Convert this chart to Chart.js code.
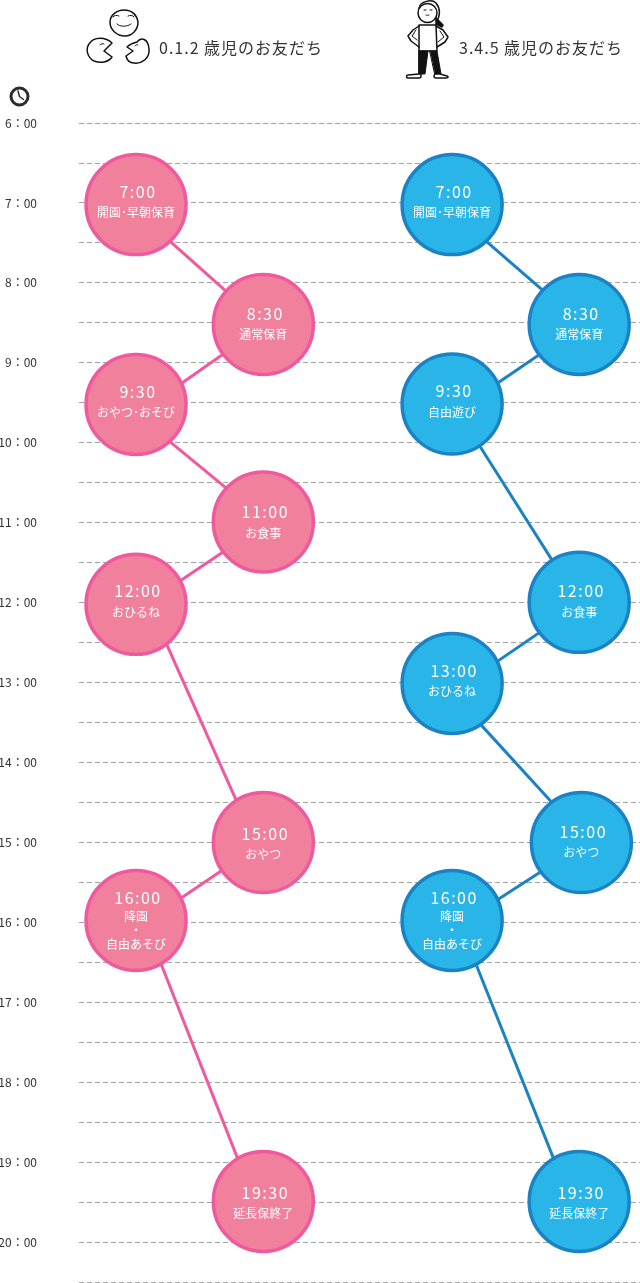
<!DOCTYPE html>
<html lang="ja"><head><meta charset="utf-8">
<script src="https://cdn.jsdelivr.net/npm/chart.js@4"></script>
<style>
html,body{margin:0;padding:0;background:#fff;width:640px;height:1283px;overflow:hidden}
#wrap{position:relative;width:640px;height:1283px}
canvas{position:absolute;left:0;top:0}
svg{position:absolute;left:0;top:0;pointer-events:none}
</style></head><body>
<div id="wrap">
<canvas id="c" width="640" height="1283"></canvas>
<svg width="640" height="1283" viewBox="0 0 640 1283" fill="none" stroke="#111" stroke-width="1.5" stroke-linecap="round" stroke-linejoin="round">
  <!-- three faces -->
  <path d="M124 10c8 0 13 5 14 12 0 8-6 14-13 14-8 0-15-6-15-14 0-7 7-12 14-12z"/>
  <path d="M117 24c3 3 10 3 14 0M113 17c1-2 4-2 6-1M128 16c2-1 5-1 6 1" stroke-width="1"/>
  <path d="M112 43C106 37 94 36 89 44 85 50 88 58 94 61 100 63 108 63 112 57L104 51 112 43"/>
  <path d="M100 45c1-1 3-2 4-1" stroke-width="1"/>
  <path d="M137 42C141 37 148 38 149 49 150 58 142 64 134 63 130 63 127 60 126 56L133 51 127 47C129 45 133 43 137 42"/>
  <path d="M135 46c1-1 2-2 3-1" stroke-width="1"/>
  <!-- child -->
  <path d="M419 8C420 1 432-1 436 3 440 8 440 14 438 19" />
  <circle cx="427.500" cy="13" r="9.500" fill="#fff"/>
  <path d="M436 18l7 7-1 2-6-3z" fill="#111"/>
  <path d="M424 10h2M430 10h2M426 15c1 .5 2 .5 3 0" stroke-width="1"/>
  <path d="M419 25h17l1 26h-18z"/>
  <path d="M419 26l-6 4-5 6 3 5 8 6M436 26l7 4 5 7-3 5-8 5"/>
  <path d="M416 30l-4 6 5 4M440 31l4 6-6 5" stroke-width="1"/>
  <path d="M419 51h9l-3 23h-6zM430 51h7l4 23h-6z" fill="#111" stroke-width="1"/>
  <path d="M419 74h2v2c0 1-1 2-2 2h-11c-2 0-2-3 0-3zM435 74h5l7 2c2 1 1 2-1 2h-10c-2 0-2-1-2-2z" fill="#fff"/>
  <!-- clock -->
  <circle cx="19.500" cy="96.500" r="8.500" stroke="#2b2b2b" stroke-width="3"/>
  <path d="M18 91l1.500 5.500 4 3" stroke="#2b2b2b" stroke-width="1.500"/>
</svg>
</div>
<script>
const hourTicks = [6,6.5,7,7.5,8,8.5,9,9.5,10,10.5,11,11.5,12,12.5,13,13.5,14,14.5,15,15.5,16,16.5,17,17.5,18,18.5,19,19.5,20,20.5];
const headers = ["0.1.2 歳児のお友だち","3.4.5 歳児のお友だち"];

const pinkTimes = ["7:00","8:30","9:30","11:00","12:00","15:00","16:00","19:30"];
const pinkHours = [7.02,8.52,9.52,10.99,12.02,15.0,15.975,19.49];
const pinkLanes = [0,1.005,0,1.005,0,1.005,0,1.005];
const pinkNames = [["開園･早朝保育"],["通常保育"],["おやつ･おそび"],["お食事"],["おひるね"],["おやつ"],["降園","・","自由あそび"],["延長保終了"]];

const blueTimes = ["7:00","8:30","9:30","12:00","13:00","15:00","16:00","19:30"];
const blueHours = [7.02,8.52,9.515,11.995,13.01,15.0,15.975,19.49];
const blueLanes = [2.495,3.498,2.495,3.498,2.495,3.515,2.495,3.498];
const blueNames = [["開園･早朝保育"],["通常保育"],["自由遊び"],["お食事"],["おひるね"],["おやつ"],["降園","・","自由あそび"],["延長保終了"]];

// connector strokes between circles (null = break)
const pinkLinkLanes = [.205,.781,null,.758,.284,null,.205,.789,null,.758,.276,null,.213,.829,null,.750,.284,null,.174,.829];
const pinkLinkHours = [7.389,8.202,null,8.815,9.340,null,9.903,10.667,null,11.292,11.805,null,12.418,14.608,null,15.271,15.771,null,16.422,19.061];
const blueLinkLanes = [2.699,3.291,null,3.260,2.786,null,2.668,3.339,null,3.260,2.786,null,2.660,3.339,null,3.275,2.786,null,2.652,3.323];
const blueLinkHours = [7.389,8.202,null,8.815,9.328,null,9.928,11.605,null,12.293,12.806,null,13.419,14.595,null,15.283,15.784,null,16.397,19.061];

// vertical placement of the captions relative to each circle
const pinkTextShift = [-13,-11,-13,-10,-13,-9,-23,-9];
const blueTextShift = [-13,-11,-13,-11,-13,-11,-23,-9];

const FONT = '"Noto Sans CJK JP","Noto Sans",sans-serif';
const toPts = (xs,ys)=>xs.map((x,i)=>({x,y:ys[i]}));

const captions = {
  id:'captions',
  afterDatasetsDraw(chart){
    const ctx = chart.ctx;
    const sets = [[pinkTimes,pinkNames,pinkTextShift],[blueTimes,blueNames,blueTextShift]];
    ctx.save();
    ctx.fillStyle='#fff'; ctx.textAlign='center'; ctx.textBaseline='middle';
    sets.forEach(([times,names,shift],d)=>{
      chart.getDatasetMeta(d).data.forEach((pt,i)=>{
        ctx.font='16px '+FONT; ctx.letterSpacing='1.5px';
        ctx.fillText(times[i],pt.x+2,pt.y+shift[i]);
        ctx.font='12px '+FONT; ctx.letterSpacing='0px';
        const lines=names[i];
        const start = lines.length>1 ? 19 : 21;
        lines.forEach((s,k)=>ctx.fillText(s,pt.x,pt.y+shift[i]+start+k*14));
      });
    });
    ctx.fillStyle='#333'; ctx.textAlign='left'; ctx.font='16px '+FONT; ctx.letterSpacing='1px';
    ctx.fillText(headers[0],159,48);
    ctx.fillText(headers[1],459,48);
    ctx.restore();
  }
};

const circle = (xs,ys,fill,edge)=>({data:toPts(xs,ys),showLine:false,
  pointRadius:50,pointHoverRadius:50,pointBackgroundColor:fill,pointBorderColor:edge,pointBorderWidth:3.5,clip:false});
const link = (xs,ys,edge)=>({data:toPts(xs,ys),showLine:true,spanGaps:false,borderColor:edge,borderWidth:3,pointRadius:0,clip:false});

new Chart(document.getElementById('c'),{
  type:'scatter',
  data:{datasets:[
    circle(pinkLanes,pinkHours,'#F0809B','#EF5A9E'),
    circle(blueLanes,blueHours,'#29B5E8','#1B82C4'),
    link(pinkLinkLanes,pinkLinkHours,'#EF5A9E'),
    link(blueLinkLanes,blueLinkHours,'#1B82C4')
  ]},
  options:{
    responsive:false,animation:false,devicePixelRatio:1,
    layout:{padding:0,autoPadding:false},
    plugins:{legend:{display:false},tooltip:{enabled:false}},
    scales:{
      x:{type:'linear',display:false,min:-0.45,max:3.978},
      y:{type:'linear',reverse:true,min:4.461,max:20.51,
         afterFit(s){s.width=79;s.paddingTop=0;s.paddingBottom=0;},
         afterBuildTicks(s){s.ticks=hourTicks.map(v=>({value:v}));},
         border:{display:false,dash:[5,3]},
         grid:{color:'#a3a3a3',lineWidth:1,tickLength:0,drawTicks:false},
         ticks:{autoSkip:false,padding:42,color:'#333',font:{family:FONT,size:12},
           callback:v=>Number.isInteger(v)?v+'：00':''}
      }
    }
  },
  plugins:[captions]
});
</script>
</body></html>
